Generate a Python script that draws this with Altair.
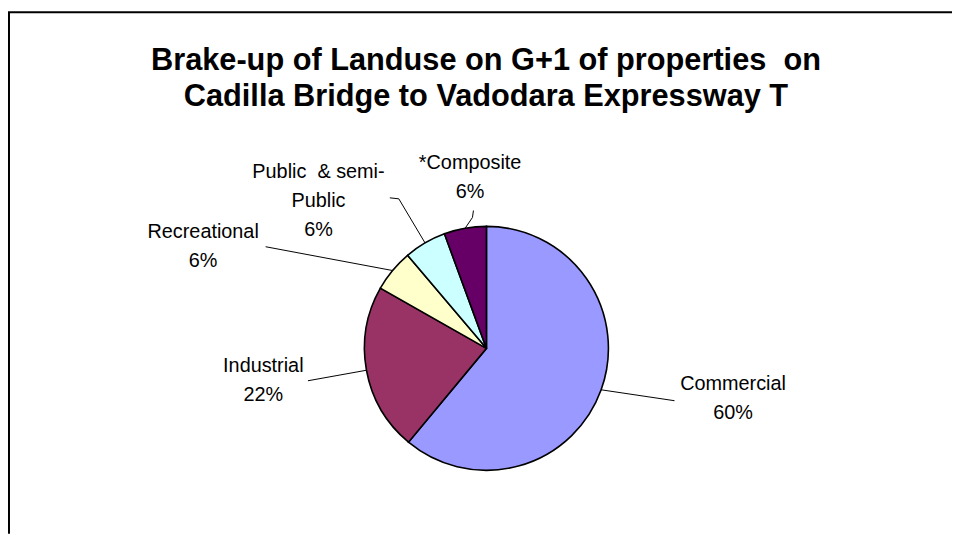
import altair as alt
import pandas as pd

# ---- data ----
categories = ["Commercial", "Industrial", "Recreational", "Public \u00a0& semi-Public", "*Composite"]
shares = [61.1, 22.2, 5.6, 5.6, 5.6]          # slice sizes as drawn (angles)
pct_labels = ["60%", "22%", "6%", "6%", "6%"]  # percentages printed on the labels
colors = ["#9999FF", "#993366", "#FFFFCC", "#CCFFFF", "#660066"]
title_lines = ["Brake-up of Landuse on G+1 of properties \u00a0on",
               "Cadilla Bridge to Vadodara Expressway T"]

df = pd.DataFrame({
    "category": categories,
    "share": shares,
    "idx": list(range(len(categories))),
    "label": [c.replace("semi-", "semi-\n") + "\n" + p for c, p in zip(categories, pct_labels)],
})

# ---- layout (style, not data) ----
W, H = 952, 528
CX, CY, R = 482.5, 341, 123
FONT = "Liberation Sans, Arial, sans-serif"

# leader-line offsets from the slice's mid-point on the rim
leader_layout = [
    {"category": categories[0], "lx": [0, 74], "ly": [0, 11], "step": [0, 1]},
    {"category": categories[1], "lx": [0, -59], "ly": [0, 10.6], "step": [0, 1]},
    {"category": categories[2], "lx": [0, -128], "ly": [0, -24], "step": [0, 1]},
    {"category": categories[3], "lx": [0, -26.5, -35.5], "ly": [0, -44.5, -45.5], "step": [0, 1, 2]},
    {"category": categories[4], "lx": [0, 7.4, 8.4], "ly": [0, -10.9, -17.9], "step": [0, 1, 2]},
]
# label anchor (first line baseline, centre) offsets from the rim mid-point
text_layout = [
    {"category": categories[0], "tx": 133, "ty": 0},
    {"category": categories[1], "tx": -104, "ty": 2},
    {"category": categories[2], "tx": -191, "ty": -33},
    {"category": categories[3], "tx": -107.5, "ty": -65.5},
    {"category": categories[4], "tx": 5, "ty": -60},
]

base = alt.Chart(df)

pie = base.mark_arc(outerRadius=R, stroke="black", strokeWidth=1.6).encode(
    theta=alt.Theta("share:Q", stack=True),
    order=alt.Order("idx:Q", sort="ascending"),
    color=alt.Color("category:N", scale=alt.Scale(domain=categories, range=colors), legend=None),
    x=alt.value(CX),
    y=alt.value(CY),
)

rim = base.transform_joinaggregate(total="sum(share)").transform_window(
    cum="sum(share)", sort=[alt.SortField("idx", order="ascending")], frame=[None, 0]
).transform_calculate(
    mid="2*PI*(datum.cum - datum.share/2)/datum.total",
).transform_calculate(
    ex=f"{CX} + {R}*sin(datum.mid)",
    ey=f"{CY} - {R}*cos(datum.mid)",
)

leaders = rim.transform_lookup(
    lookup="category",
    from_=alt.LookupData(data=alt.InlineData(values=leader_layout), key="category", fields=["lx", "ly", "step"]),
).transform_flatten(["lx", "ly", "step"]).transform_calculate(
    px="datum.ex + datum.lx", py="datum.ey + datum.ly"
).mark_line(color="black", strokeWidth=1).encode(
    x=alt.X("px:Q", scale=None),
    y=alt.Y("py:Q", scale=None),
    detail="category:N",
    order=alt.Order("step:Q"),
)

labels = rim.transform_lookup(
    lookup="category",
    from_=alt.LookupData(data=alt.InlineData(values=text_layout), key="category", fields=["tx", "ty"]),
).transform_calculate(
    qx="datum.ex + datum.tx", qy="datum.ey + datum.ty"
).mark_text(
    align="center", baseline="alphabetic", lineBreak="\n",
    font=FONT, fontSize=20, lineHeight=29, color="black",
).encode(
    x=alt.X("qx:Q", scale=None),
    y=alt.Y("qy:Q", scale=None),
    text="label:N",
)

one = alt.Chart(pd.DataFrame({"a": [0]}))
title = one.mark_text(
    text=title_lines, align="center", baseline="alphabetic", font=FONT,
    fontSize=31, fontWeight="bold", lineHeight=37, color="black",
).encode(x=alt.value(482), y=alt.value(60))

frame_top = one.mark_rule(color="black", strokeWidth=2).encode(
    x=alt.value(0), x2=alt.value(W), y=alt.value(2))
frame_left = one.mark_rule(color="black", strokeWidth=2).encode(
    x=alt.value(1), y=alt.value(2), y2=alt.value(H))

chart = alt.layer(frame_top, frame_left, pie, leaders, labels, title).properties(
    width=W, height=H, padding=0,
    autosize=alt.AutoSizeParams(type="none"),
    background="white",
).configure_view(stroke="transparent", strokeWidth=0)

chart.save("out.html", embed_options={"renderer": "svg", "actions": False})
